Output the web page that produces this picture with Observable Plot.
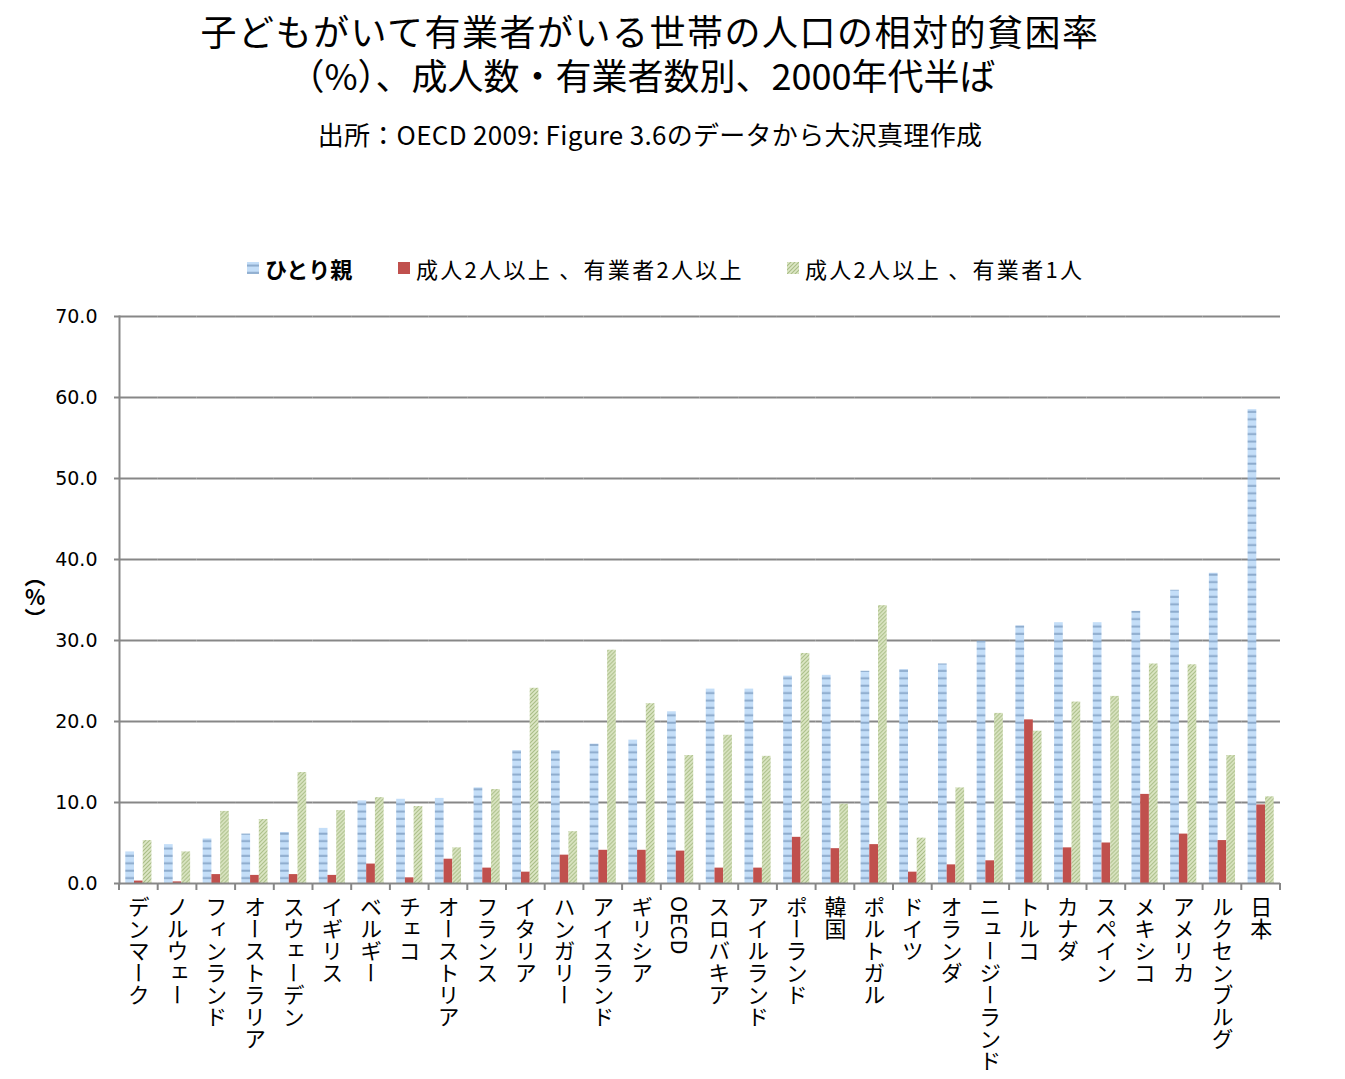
<!DOCTYPE html>
<html><head><meta charset="utf-8">
<script src="https://cdn.jsdelivr.net/npm/d3@7"></script>
<script src="https://cdn.jsdelivr.net/npm/@observablehq/plot@0.6"></script>
<style>
body{margin:0;background:#fff;font-family:"Noto Sans CJK JP","Noto Sans",sans-serif;color:#000;}
#wrap{position:relative;width:1345px;height:1079px;overflow:hidden;}
.t{position:absolute;left:0;width:1300px;text-align:center;white-space:nowrap;}
.lg{position:absolute;top:252px;font-size:22px;line-height:32px;white-space:nowrap;letter-spacing:2.3px;}
.sw{position:absolute;top:262px;width:12px;height:12px;}
#ylab{position:absolute;left:20px;top:566px;writing-mode:vertical-rl;text-orientation:upright;font-size:21px;font-weight:bold;}
#chart{position:absolute;left:0;top:290px;}
</style></head><body>
<div id="wrap">
  <div class="t" style="top:8px;font-size:36px;line-height:44px;"><span style="letter-spacing:1.5px;">子どもがいて有業者がいる世帯の人口の相対的貧困率</span><br><span style="position:relative;left:-8px;">（%）、成人数・有業者数別、2000年代半ば</span></div>
  <div class="t" style="top:117px;font-size:26px;line-height:34px;letter-spacing:0.3px;">出所：OECD 2009: Figure 3.6のデータから大沢真理作成</div>
  <div id="legend"></div>
  <div id="ylab">（%）</div>
  <div id="chart"></div>
</div>
<script>
const countries = ["デンマーク","ノルウェー","フィンランド","オーストラリア","スウェーデン","イギリス","ベルギー","チェコ","オーストリア","フランス","イタリア","ハンガリー","アイスランド","ギリシア","OECD","スロバキア","アイルランド","ポーランド","韓国","ポルトガル","ドイツ","オランダ","ニュージーランド","トルコ","カナダ","スペイン","メキシコ","アメリカ","ルクセンブルグ","日本"];
const seriesNames = ["ひとり親","成人2人以上 、有業者2人以上","成人2人以上 、有業者1人"];
const singleParent = [3.9,4.8,5.5,6.1,6.3,6.8,10.2,10.4,10.5,11.8,16.4,16.4,17.2,17.7,21.2,24.0,24.0,25.6,25.7,26.2,26.4,27.1,29.9,31.8,32.2,32.2,33.6,36.2,38.3,58.5];
const twoPlusTwoEarners = [0.3,0.2,1.1,1.0,1.1,1.0,2.4,0.7,3.0,1.9,1.4,3.5,4.1,4.1,4.0,1.9,1.9,5.7,4.3,4.8,1.4,2.3,2.8,20.2,4.4,5.0,11.0,6.1,5.3,9.7];
const twoPlusOneEarner = [5.3,3.9,8.9,7.9,13.7,9.0,10.6,9.5,4.4,11.6,24.1,6.4,28.8,22.2,15.8,18.3,15.7,28.4,9.8,34.3,5.6,11.8,21.0,18.8,22.4,23.1,27.1,27.0,15.8,10.7];
const yTicks = [0,10,20,30,40,50,60,70];
const seriesFills = ["url(#pBlue)","#C0504D","url(#pGreen)"];

const data = countries.flatMap((c,i)=>[
  {country:c, series:seriesNames[0], value:singleParent[i]},
  {country:c, series:seriesNames[1], value:twoPlusTwoEarners[i]},
  {country:c, series:seriesNames[2], value:twoPlusOneEarner[i]}
]);

const gray = "#878787";
const plot = Plot.plot({
  width:1345, height:789,
  marginTop:26, marginLeft:119, marginRight:65, marginBottom:196,
  style:{fontFamily:"DejaVu Sans, sans-serif", fontSize:"19px", color:"#000", background:"transparent", overflow:"visible"},
  fx:{domain:countries, padding:0, round:false, label:null},
  x:{domain:seriesNames, axis:null, paddingInner:0, paddingOuter:0.72, round:false},
  y:{domain:[0,70], label:null},
  color:{domain:seriesNames, range:seriesFills},
  marks:[
    Plot.gridY(yTicks.filter(d=>d>0), {stroke:gray, strokeWidth:2, strokeOpacity:1}),
    Plot.barY(data, {fx:"country", x:"series", y:"value", fill:"series"}),
    Plot.ruleY([0], {stroke:gray, strokeWidth:2}),
    Plot.frame({anchor:"left", facetAnchor:"left", stroke:gray, strokeWidth:2}),
    Plot.axisY({ticks:yTicks, tickFormat:d=>d.toFixed(1), tickSize:5, tickPadding:17, stroke:gray, strokeWidth:2, label:null, fontSize:19}),
    Plot.axisFx({anchor:"bottom", tickSize:0, tickPadding:-3, label:null, fontSize:22, fontFamily:"Noto Sans CJK JP", className:"fxaxis"})
  ]
});
document.getElementById("chart").appendChild(plot);

const svg = d3.select(plot);
const defs = svg.insert("defs", ":first-child");
const pb = defs.append("pattern").attr("id","pBlue").attr("patternUnits","userSpaceOnUse").attr("width",8).attr("height",7.4);
pb.append("rect").attr("width",8).attr("height",7.4).attr("fill","#C4DEF8");
pb.append("rect").attr("y",2.5).attr("width",8).attr("height",2).attr("fill","#8DABCD");
const pg = defs.append("pattern").attr("id","pGreen").attr("patternUnits","userSpaceOnUse").attr("width",4).attr("height",4);
pg.append("rect").attr("width",4).attr("height",4).attr("fill","#DDE7C6");
pg.append("path").attr("d","M-1,1 l2,-2 M0,4 l4,-4 M3,5 l2,-2").attr("stroke","#A9BD86").attr("stroke-width",1.1);

// vertical tick labels
svg.selectAll(".fxaxis text").each(function(){
  const t = d3.select(this);
  t.attr("dy", null).attr("text-anchor","start").style("writing-mode","vertical-rl").style("font-family","Noto Sans CJK JP");
  t.selectAll("tspan").attr("dy", null);
});

// tick marks at group boundaries, derived from the fx scale
const fx = plot.scale("fx");
const y = plot.scale("y");
const y0 = y.apply(0);
const bounds = countries.map(c=>fx.apply(c)).concat([fx.apply(countries[countries.length-1]) + fx.step]);
svg.append("g").selectAll("line").data(bounds).join("line")
  .attr("x1",d=>d).attr("x2",d=>d).attr("y1",y0).attr("y2",y0+7)
  .attr("stroke",gray).attr("stroke-width",2);

// legend (HTML)
const lg = d3.select("#legend");
const legendSpec = [
  {sw:247, tx:265, bold:true},
  {sw:398, tx:416, bold:false},
  {sw:787, tx:805, bold:false}
];
seriesNames.forEach((s,i)=>{
  const sp = legendSpec[i];
  const sv = lg.append("svg").attr("class","sw").style("left",sp.sw+"px").attr("width",12).attr("height",12);
  sv.append("rect").attr("width",12).attr("height",12).attr("fill",seriesFills[i]);
  lg.append("div").attr("class","lg").style("left",sp.tx+"px").style("font-weight",sp.bold?"bold":"normal").style("letter-spacing",sp.bold?"0":null).text(s);
});
</script>
</body></html>
